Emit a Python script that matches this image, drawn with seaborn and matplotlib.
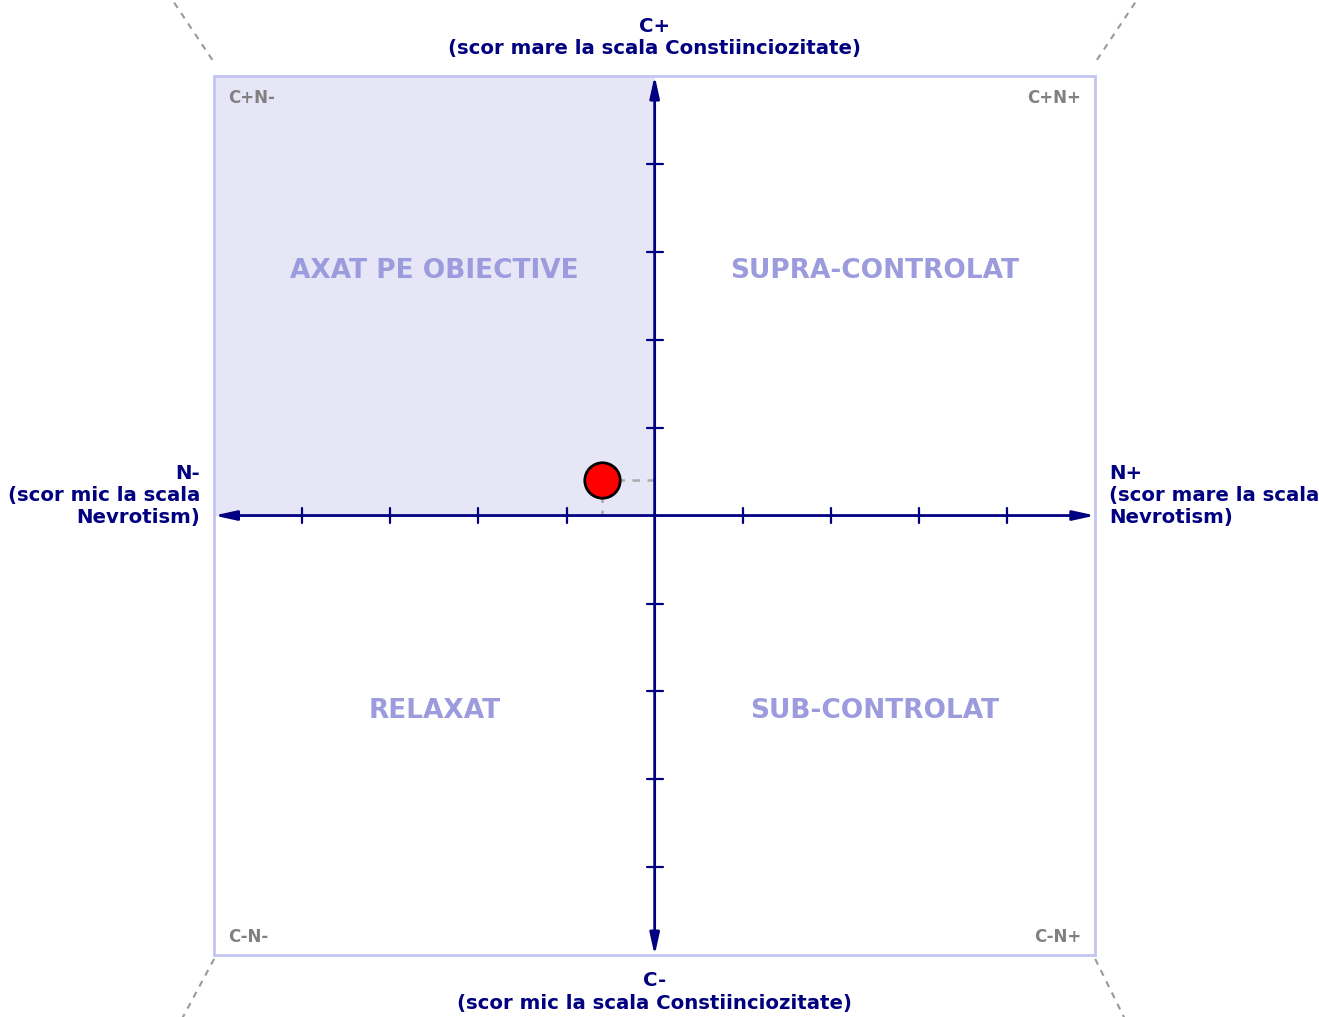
import matplotlib
matplotlib.use('Agg')
import matplotlib.pyplot as plt
import seaborn as sns
import pandas as pd

# data
quadrant_names = ['AXAT PE OBIECTIVE', 'SUPRA-CONTROLAT', 'RELAXAT', 'SUB-CONTROLAT']
quadrant_x = [-2.5, 2.5, -2.5, 2.5]
quadrant_y = [2.78, 2.78, -2.22, -2.22]
corner_labels = ['C+N-', 'C+N+', 'C-N-', 'C-N+']
tick_values = [-4, -3, -2, -1, 1, 2, 3, 4]
score_n = [-0.6]
score_c = [0.4]

NAVY = '#000080'
BOX = '#c4c4f2'
SHADE = '#e6e6f7'
QTXT = '#9b9bde'
GREY = '#808080'
LIM = 5

def plot_quadrant(df):
    sns.set_style('white')
    fig = plt.figure(figsize=(13.19, 10.17), dpi=100)
    ax = fig.add_axes([0, 0, 1, 1])

    n, c = df['N'][0], df['C'][0]

    # shaded quadrant where the point lies
    sx = -LIM if n < 0 else 0
    sy = 0 if c > 0 else -LIM
    ax.add_patch(plt.Rectangle((sx, sy), LIM, LIM, fc=SHADE, ec='none', zorder=0))
    # outer box
    ax.add_patch(plt.Rectangle((-LIM, -LIM), 2 * LIM, 2 * LIM, fc='none', ec=BOX, lw=2, zorder=1))

    # corner dashed lines
    for (x0, y0, x1, y1) in [(-5.02, 5.18, -5.5, 5.9), (5.02, 5.18, 5.5, 5.9),
                             (-5.0, -5.04, -5.38, -5.75), (5.0, -5.04, 5.35, -5.75)]:
        ax.plot([x0, x1], [y0, y1], ls=(0, (3, 3)), color='#999999', lw=1.5, zorder=1)

    # axes with arrows
    arrow = dict(arrowstyle='<|-|>,head_length=1.0,head_width=0.22', color=NAVY, lw=2,
                 shrinkA=0, shrinkB=0, mutation_scale=13)
    ax.annotate('', xy=(LIM, 0), xytext=(-LIM, 0), arrowprops=arrow, zorder=3)
    ax.annotate('', xy=(0, LIM), xytext=(0, -LIM), arrowprops=arrow, zorder=3)

    # ticks
    for t in tick_values:
        ax.plot([t, t], [-0.09, 0.09], color=NAVY, lw=1.6, zorder=3)
        ax.plot([-0.09, 0.09], [t, t], color=NAVY, lw=1.6, zorder=3)

    # quadrant names
    for name, x, y in zip(quadrant_names, quadrant_x, quadrant_y):
        ax.text(x, y, name, color=QTXT, fontsize=19, fontweight='bold',
                ha='center', va='center', zorder=2)

    # corner labels
    ax.text(-4.84, 4.75, corner_labels[0], color=GREY, fontsize=12, fontweight='bold', ha='left', va='center')
    ax.text(4.84, 4.75, corner_labels[1], color=GREY, fontsize=12, fontweight='bold', ha='right', va='center')
    ax.text(-4.84, -4.79, corner_labels[2], color=GREY, fontsize=12, fontweight='bold', ha='left', va='center')
    ax.text(4.84, -4.79, corner_labels[3], color=GREY, fontsize=12, fontweight='bold', ha='right', va='center')

    # axis labels
    lab = dict(color=NAVY, fontsize=14.2, fontweight='bold', linespacing=1.22)
    ax.text(0, 5.2, 'C+\n(scor mare la scala Constiinciozitate)', ha='center', va='bottom', **lab)
    ax.text(0, -5.18, 'C-\n(scor mic la scala Constiinciozitate)', ha='center', va='top', **lab)
    ax.text(-5.16, 0.23, 'N-\n(scor mic la scala\nNevrotism)', ha='right', va='center', multialignment='right', **lab)
    ax.text(5.16, 0.23, 'N+\n(scor mare la scala\nNevrotism)', ha='left', va='center', multialignment='left', **lab)

    # guide lines to the axes
    ax.plot([n, 0], [c, c], ls=(0, (3, 3)), color='#aaaaaa', lw=1.8, zorder=2)
    ax.plot([n, n], [c, 0], ls=(0, (3, 3)), color='#aaaaaa', lw=1.8, zorder=2)

    # the point
    sns.scatterplot(data=df, x='N', y='C', s=650, color='#ff0000', edgecolor='black',
                    linewidth=2, zorder=5, ax=ax, legend=False)
    ax.set_xlim(-7.43, 7.54)
    ax.set_ylim(-5.70, 5.86)
    ax.axis('off')

    fig.savefig('out.png', dpi=100)

df = pd.DataFrame({'N': score_n, 'C': score_c})
plot_quadrant(df)
